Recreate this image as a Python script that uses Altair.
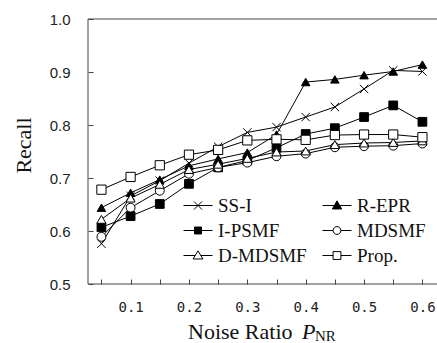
import altair as alt
import pandas as pd

# ---- data ----
noise = [0.05, 0.10, 0.15, 0.20, 0.25, 0.30, 0.35, 0.40, 0.45, 0.50, 0.55, 0.60]
ss_i = [0.576, 0.666, 0.695, 0.728, 0.759, 0.786, 0.796, 0.815, 0.834, 0.868, 0.903, 0.901]
r_epr = [0.644, 0.672, 0.697, 0.723, 0.736, 0.748, 0.782, 0.881, 0.886, 0.894, 0.901, 0.914]
i_psmf = [0.607, 0.628, 0.651, 0.689, 0.720, 0.733, 0.757, 0.783, 0.794, 0.815, 0.837, 0.806]
mdsmf = [0.589, 0.644, 0.676, 0.708, 0.720, 0.729, 0.741, 0.746, 0.758, 0.760, 0.761, 0.765]
d_mdsmf = [0.622, 0.662, 0.688, 0.716, 0.726, 0.737, 0.749, 0.751, 0.763, 0.766, 0.767, 0.770]
prop = [0.678, 0.702, 0.724, 0.744, 0.753, 0.771, 0.773, 0.772, 0.781, 0.782, 0.782, 0.777]

series_names = ["SS-I", "R-EPR", "I-PSMF", "MDSMF", "D-MDSMF", "Prop."]
series_values = [ss_i, r_epr, i_psmf, mdsmf, d_mdsmf, prop]
# legend fills column by column: left column first, then right column
legend_order = ["SS-I", "I-PSMF", "D-MDSMF", "R-EPR", "MDSMF", "Prop."]

x_ticks = [0.05, 0.10, 0.15, 0.20, 0.25, 0.30, 0.35, 0.40, 0.45, 0.50, 0.55, 0.60]
y_ticks = [0.5, 0.6, 0.7, 0.8, 0.9, 1.0]

rows = []
for name, vals in zip(series_names, series_values):
    for xv, yv in zip(noise, vals):
        rows.append({"series": name, "noise": xv, "recall": yv})
df = pd.DataFrame(rows)

W, H = 349, 265

# marker styles
X_PATH = "M-1,-1L1,1M-1,1L1,-1"
marker_shapes = [X_PATH, "triangle-up", "square", "circle", "triangle-up", "square"]
marker_sizes = [70, 85, 45, 64, 90, 70]
marker_fills = ["white", "black", "black", "white", "white", "white"]

# legend symbols: line + marker
legend_shape_of = {
    "SS-I": "M-1,0H1M-0.28,-0.28L0.28,0.28M-0.28,0.28L0.28,-0.28",
    "R-EPR": "M-1,0H1M0,-0.32L0.32,0.24L-0.32,0.24Z",
    "I-PSMF": "M-1,0H1M-0.24,-0.24H0.24V0.24H-0.24Z",
    "MDSMF": "M-1,0H-0.27M0.27,0H1M0.27,0A0.27,0.27,0,1,1,-0.27,0A0.27,0.27,0,1,1,0.27,0Z",
    "D-MDSMF": "M-1,0H-0.19M0.19,0H1M0,-0.32L0.34,0.24L-0.34,0.24Z",
    "Prop.": "M-1,0H-0.27M0.27,0H1M-0.27,-0.27H0.27V0.27H-0.27Z",
}
fill_of = dict(zip(series_names, marker_fills))
legend_shapes = [legend_shape_of[n] for n in legend_order]
legend_fills = [fill_of[n] for n in legend_order]

x_enc = alt.X(
    "noise:Q",
    scale=alt.Scale(domain=[0.027, 0.625], nice=False, zero=False),
    axis=alt.Axis(
        values=x_ticks,
        labelExpr="round(datum.value*100) % 10 == 0 ? format(datum.value, '.1f') : ''",
        labelFont="DejaVu Sans Mono",
        labelFontSize=14,
        labelColor="#222",
        labelPadding=16,
        labelFlush=False,
        tickSize=5,
        tickColor="#444",
        offset=-5,
        domain=False,
        grid=False,
        title=None,
    ),
)
y_enc = alt.Y(
    "recall:Q",
    scale=alt.Scale(domain=[0.5, 1.0], nice=False, zero=False),
    axis=alt.Axis(
        values=y_ticks,
        format=".1f",
        labelFont="Liberation Sans",
        labelFontSize=15,
        labelColor="#222",
        labelPadding=18,
        labelFlush=False,
        tickSize=5,
        tickColor="#444",
        offset=-5,
        domain=False,
        grid=False,
        title="Recall",
        titleFont="Liberation Serif",
        titleFontSize=22,
        titleFontWeight="normal",
        titleColor="#111",
        titleAngle=270,
        titleX=-70,
        titleY=126,
        titleAlign="center",
        titleBaseline="middle",
    ),
)

base = alt.Chart(df)

lines = base.mark_line(color="black", strokeWidth=1).encode(
    x=x_enc, y=y_enc, detail="series:N"
)

points = base.mark_point(stroke="black", strokeWidth=1, opacity=1).encode(
    x=x_enc,
    y=y_enc,
    shape=alt.Shape("series:N", scale=alt.Scale(domain=series_names, range=marker_shapes), legend=None),
    fill=alt.Fill("series:N", scale=alt.Scale(domain=series_names, range=marker_fills), legend=None),
    size=alt.Size("series:N", scale=alt.Scale(domain=series_names, range=marker_sizes), legend=None),
)


def legend_props():
    return alt.Legend(
        orient="none",
        legendX=95,
        legendY=171.5,
        columns=2,
        columnPadding=13,
        rowPadding=0,
        padding=0,
        title=None,
        labelFont="Liberation Serif",
        labelFontSize=19,
        labelColor="#111",
        labelOffset=5,
        symbolSize=841,
        symbolStrokeWidth=1,
        symbolStrokeColor="black",
    )


legend_layer = base.transform_filter("datum.noise < 0").mark_point(
    stroke="black", strokeWidth=1, opacity=1, size=841
).encode(
    x=x_enc,
    y=y_enc,
    shape=alt.Shape("series:N", scale=alt.Scale(domain=legend_order, range=legend_shapes), legend=legend_props()),
    fill=alt.Fill("series:N", scale=alt.Scale(domain=legend_order, range=legend_fills), legend=legend_props()),
    stroke=alt.Stroke("series:N", scale=alt.Scale(domain=legend_order, range=["black"] * 6), legend=legend_props()),
)

frame_color = "#444"
left_rule = alt.Chart(pd.DataFrame({"k": [0]})).mark_rule(color=frame_color, strokeWidth=1).encode(
    x=alt.value(0), y=alt.value(0), y2=alt.value(H)
)
bottom_rule = alt.Chart(pd.DataFrame({"k": [0]})).mark_rule(color=frame_color, strokeWidth=1).encode(
    x=alt.value(0), x2=alt.value(W), y=alt.value(H)
)
top_rule = alt.Chart(pd.DataFrame({"k": [0]})).mark_rule(color=frame_color, strokeWidth=1).encode(
    x=alt.value(0), x2=alt.value(W), y=alt.value(0)
)

t_main = alt.Chart(pd.DataFrame({"t": ["Noise Ratio"]})).mark_text(
    font="Liberation Serif", fontSize=22, align="left", baseline="alphabetic", color="#111"
).encode(text="t:N", x=alt.value(100), y=alt.value(320))
t_p = alt.Chart(pd.DataFrame({"t": ["P"]})).mark_text(
    font="Liberation Serif", fontSize=22, fontStyle="italic", align="left", baseline="alphabetic", color="#111"
).encode(text="t:N", x=alt.value(214), y=alt.value(320))
t_nr = alt.Chart(pd.DataFrame({"t": ["NR"]})).mark_text(
    font="Liberation Serif", fontSize=15, align="left", baseline="alphabetic", color="#111"
).encode(text="t:N", x=alt.value(227), y=alt.value(322))

chart = (
    alt.layer(lines, points, legend_layer, left_rule, bottom_rule, top_rule, t_main, t_p, t_nr)
    .resolve_scale(shape="independent", fill="independent", size="independent", stroke="independent")
    .properties(
        width=W,
        height=H,
        autosize=alt.AutoSizeParams(type="none"),
        padding={"left": 88, "top": 19, "right": 0, "bottom": 59},
        background="white",
    )
    .configure_view(stroke=None)
)

chart.save("out.html", embed_options={"renderer": "svg", "actions": False})
